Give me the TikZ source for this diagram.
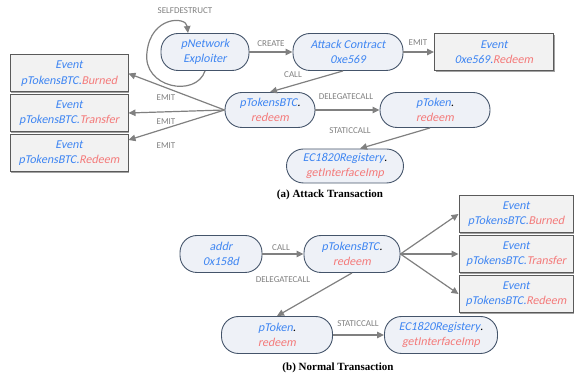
\documentclass[tikz,border=0pt]{standalone}
\usepackage{fontspec}
\setmainfont{Liberation Serif}
\newfontfamily\calfont{Carlito}
\newfontfamily\calit{Carlito}[FakeSlant=0.2]
\usetikzlibrary{arrows.meta,shadows,calc}
\definecolor{tblue}{HTML}{3F86F2}
\definecolor{tred}{HTML}{F47A7A}
\definecolor{nfill}{HTML}{EEF1F7}
\definecolor{nborder}{HTML}{44546A}
\definecolor{efill}{HTML}{F2F2F2}
\definecolor{eborder}{HTML}{5A5A5A}
\definecolor{agray}{HTML}{808080}
\newcommand{\bl}[1]{\textcolor{tblue}{#1}}
\newcommand{\rd}[1]{\textcolor{tred}{#1}}
\tikzset{
  fnode/.style={draw=nborder, fill=nfill, line width=0.9pt, rounded corners=17pt,
    minimum height=37pt, align=center, inner sep=1pt,
    font=\calit\fontsize{12}{15.5}\selectfont},
  evbox/.style={draw=eborder, fill=efill, line width=1pt, minimum width=117pt,
    minimum height=37pt, align=center, inner sep=1pt,
    drop shadow={shadow xshift=1.2pt, shadow yshift=-1.2pt, fill=black!45, opacity=0.8},
    font=\calit\fontsize{12}{15.5}\selectfont},
  arr/.style={draw=agray, line width=1.2pt, -{Triangle[length=7pt,width=6.5pt]}},
  lbl/.style={text=agray, font=\calfont\fontsize{9}{10}\selectfont, inner sep=0pt},
  capt/.style={font=\bfseries\fontsize{11}{12}\selectfont, inner sep=0pt}
}
\begin{document}
\begin{tikzpicture}[x=1pt,y=-1pt]
\useasboundingbox (0,0) rectangle (574,379);
% (a) attack transaction
\node[fnode, minimum width=88pt] (pn) at (205,52) {\bl{pNetwork}\\\bl{Exploiter}};
\node[fnode, minimum width=110pt] (ac) at (348,52) {\bl{Attack Contract}\\\bl{0xe569}};
\node[evbox, minimum width=119pt] (ev0) at (494,52) {\bl{Event}\\\bl{0xe569.}\rd{Redeem}};
\node[evbox, minimum width=118pt] (el1) at (69,73.5) {\bl{Event}\\\bl{pTokensBTC.}\rd{Burned}};
\node[evbox, minimum width=118pt] (el2) at (69,113) {\bl{Event}\\\bl{pTokensBTC.}\rd{Transfer}};
\node[evbox, minimum width=118pt] (el3) at (69,153) {\bl{Event}\\\bl{pTokensBTC.}\rd{Redeem}};
\node[fnode, minimum width=90pt, minimum height=35pt] (pt) at (270,110) {\bl{pTokensBTC}.\\\rd{redeem}};
\node[fnode, minimum width=110pt, minimum height=35pt] (pk) at (435,110) {\bl{pToken}.\\\rd{redeem}};
\node[fnode, minimum width=117pt, minimum height=34pt] (ec) at (345,166) {\bl{EC1820Registery}.\\\rd{getInterfaceImp}};
\node[capt] (capA) at (330,195) {(a) Attack Transaction};

\draw[arr] (pn.south) .. controls (196,98) and (142,88) .. (147,52)
  .. controls (151,16) and (186,16) .. ([xshift=-17pt]pn.north);
\node[lbl] (lsd) at (185,11) {SELFDESTRUCT};
\draw[arr] (pn.east) -- (ac.west);
\node[lbl] (lcr) at (271,44) {CREATE};
\draw[arr] (ac.east) -- (ev0.west);
\node[lbl] (lem0) at (418,43) {EMIT};
\draw[arr] ([xshift=-5pt]ac.south) -- (pt.north);
\node[lbl] (lca) at (293,75) {CALL};
\draw[arr] (pt.west) -- (el1.east);
\draw[arr] (pt.west) -- (el2.east);
\draw[arr] (pt.west) -- ([yshift=13pt]el3.east);
\node[lbl] (le1) at (166,98) {EMIT};
\node[lbl] (le2) at (166,122) {EMIT};
\node[lbl] (le3) at (166,146) {EMIT};
\draw[arr] (pt.east) -- (pk.west);
\node[lbl] (ldc) at (346,97) {DELEGATECALL};
\draw[arr] ([xshift=-5pt]pk.south) -- ([xshift=15pt]ec.north);
\node[lbl] (lsc) at (350,131) {STATICCALL};

% (b) normal transaction
\node[fnode, minimum width=82pt] (ad) at (221,254) {\bl{addr}\\\bl{0x158d}};
\node[fnode, minimum width=96pt] (pt2) at (352,254) {\bl{pTokensBTC}.\\\rd{redeem}};
\node[evbox, minimum width=114pt] (er1) at (516,214) {\bl{Event}\\\bl{pTokensBTC.}\rd{Burned}};
\node[evbox, minimum width=114pt] (er2) at (516,254) {\bl{Event}\\\bl{pTokensBTC.}\rd{Transfer}};
\node[evbox, minimum width=114pt] (er3) at (516,294) {\bl{Event}\\\bl{pTokensBTC.}\rd{Redeem}};
\node[fnode, minimum width=111pt] (pk2) at (277,335) {\bl{pToken}.\\\rd{redeem}};
\node[fnode, minimum width=113pt] (ec2) at (441,335) {\bl{EC1820Registery}.\\\rd{getInterfaceImp}};
\node[capt] (capB) at (338,368) {(b) Normal Transaction};

\draw[arr] (ad.east) -- (pt2.west);
\node[lbl] (lcb) at (281,248) {CALL};
\draw[arr] (pt2.east) -- (er1.west);
\draw[arr] (pt2.east) -- (er2.west);
\draw[arr] (pt2.east) -- (er3.west);
\draw[arr] (pt2.south) -- (pk2.north);
\node[lbl] (ldb) at (283,280) {DELEGATECALL};
\draw[arr] (pk2.east) -- (ec2.west);
\node[lbl] (lsb) at (358,324) {STATICCALL};
\end{tikzpicture}
\end{document}
